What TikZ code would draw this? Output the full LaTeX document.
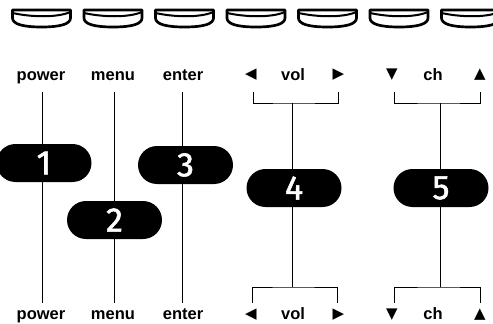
\documentclass[tikz,border=0pt]{standalone}
\usepackage{fontspec}
\setmainfont{Liberation Sans}
\newfontfamily\symfont{DejaVu Sans}
\newfontfamily\digitfont[FakeBold=1.6]{Fira Sans}
\begin{document}
\begin{tikzpicture}[x=1pt,y=-1pt,
  lbl/.style={font=\bfseries\fontsize{16.5}{16.5}\selectfont, inner sep=0pt, anchor=base},
  sym/.style={font=\symfont\fontsize{15}{15}\selectfont, inner sep=0pt},
  pill/.style={fill=black, text=white, rounded corners=19pt, minimum width=95pt, minimum height=38pt, inner sep=0pt, font=\digitfont\fontsize{34}{34}\selectfont},
  wire/.style={line width=1pt},
  btnout/.style={line width=2.7pt, line join=round},
  btnin/.style={line width=2pt}]
\useasboundingbox (0,0) rectangle (493,324);
% top buttons
\foreach \i in {0,...,6}{
  \pgfmathsetmacro{\xa}{12.5+71.5*\i}
  \pgfmathsetmacro{\xb}{\xa+58}
  \pgfmathsetmacro{\xc}{\xa+29}
  \draw[btnout] (\xa,10) -- (\xb,10) -- (\xb,18) .. controls (\xb,24) and (\xb-10,27) .. (\xc,27) .. controls (\xa+10,27) and (\xa,24) .. (\xa,18) -- cycle;
  \draw[btnin] (\xa,13) .. controls (\xa+18,17) and (\xb-14,18) .. (\xb,12);
}
% top labels
\node[lbl] (tpower) at (41,80) {power};
\node[lbl] (tmenu) at (113,80) {menu};
\node[lbl] (tenter) at (183,80) {enter};
\node[sym] (tvl) at (251,75) {◀};
\node[lbl] (tvol) at (293,80) {vol};
\node[sym] (tvr) at (338.5,75) {▶};
\node[sym] (tcd) at (392,75) {▼};
\node[lbl] (tch) at (433,80) {ch};
\node[sym] (tcu) at (480,75) {▲};
% bottom labels
\node[lbl] (bpower) at (41,319.5) {power};
\node[lbl] (bmenu) at (113,319.5) {menu};
\node[lbl] (benter) at (183,319.5) {enter};
\node[sym] (bvl) at (251,315) {◀};
\node[lbl] (bvol) at (293,319.5) {vol};
\node[sym] (bvr) at (338.5,315) {▶};
\node[sym] (bcd) at (392,315) {▼};
\node[lbl] (bch) at (433,319.5) {ch};
\node[sym] (bcu) at (480,315) {▲};
% coordinates
\coordinate (pt) at (42,92); \coordinate (pb) at (42,303);
\coordinate (mt) at (114,92); \coordinate (mb) at (114,303);
\coordinate (et) at (182,92); \coordinate (eb) at (182,303);
\coordinate (vtl) at (253,92); \coordinate (vtr) at (338,92); \coordinate (vtm) at (292,103);
\coordinate (vbl) at (252,303); \coordinate (vbr) at (337,303); \coordinate (vbm) at (292,287);
\coordinate (ctl) at (394,92); \coordinate (ctr) at (480,92); \coordinate (ctm) at (440,103);
\coordinate (cbl) at (394,303); \coordinate (cbr) at (480,303); \coordinate (cbm) at (440,287);
% wires
\draw[wire] (pt) -- (pb);
\draw[wire] (mt) -- (mb);
\draw[wire] (et) -- (eb);
\draw[wire] (vtl) |- (vtm) -| (vtr);
\draw[wire] (vtm) -- (vbm);
\draw[wire] (vbl) |- (vbm) -| (vbr);
\draw[wire] (ctl) |- (ctm) -| (ctr);
\draw[wire] (ctm) -- (cbm);
\draw[wire] (cbl) |- (cbm) -| (cbr);
% pills
\node[pill] (p1) at (44,163) {1};
\node[pill] (p2) at (114.5,220) {2};
\node[pill] (p3) at (185.5,165) {3};
\node[pill] (p4) at (294,188) {4};
\node[pill] (p5) at (441,188) {5};
\end{tikzpicture}
\end{document}
